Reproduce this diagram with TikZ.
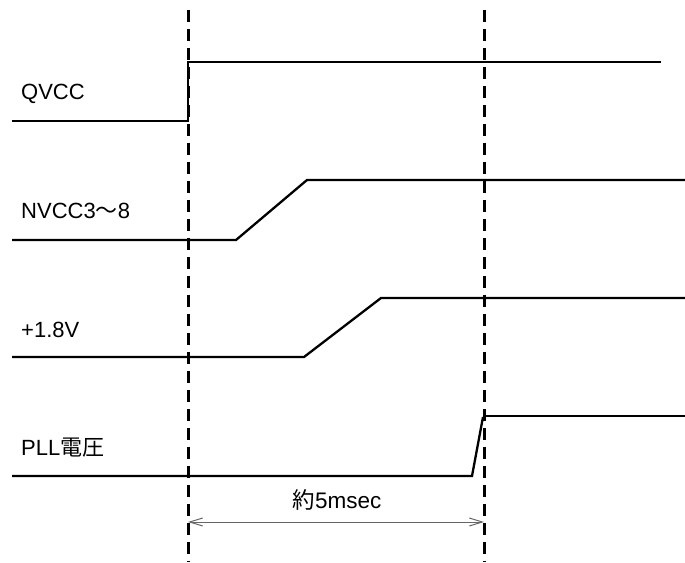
\documentclass[tikz,border=0pt]{standalone}
\usepackage{fontspec}
\setmainfont{Liberation Sans}
\newfontfamily\cjk{Noto Sans CJK JP}
\usetikzlibrary{arrows.meta}
\begin{document}
\begin{tikzpicture}[x=1pt,y=-1pt,
  sig/.style={line width=2.3pt},
  guide/.style={line width=3pt, dash pattern=on 12pt off 7pt},
  lbl/.style={anchor=base west, inner sep=0pt, font=\fontsize{22}{26}\selectfont},
  dim/.style={draw=black!60, line width=1pt, {Straight Barb[length=13pt,width=8pt,line width=1pt]}-{Straight Barb[length=13pt,width=8pt,line width=1pt]}}]
\useasboundingbox (0,0) rectangle (685,562);
% guide lines
\coordinate (g1t) at (188,10); \coordinate (g1b) at (188,562);
\coordinate (g2t) at (484,10); \coordinate (g2b) at (484,562);
\draw[guide] (g1t) -- (g1b);
\draw[guide] (g2t) -- (g2b);
% labels
\node[lbl] (lq) at (21,99) {QVCC};
\node[lbl] (ln) at (21,218) {NVCC3{\cjk 〜}8};
\node[lbl] (lv) at (21,337) {+1.8V};
\node[lbl] (lp) at (21,455) {PLL{\cjk 電圧}};
% QVCC
\coordinate (q0) at (12,121); \coordinate (q1) at (188,121);
\coordinate (q2) at (188,62); \coordinate (q3) at (661,62);
\draw[sig] (q0) -- (q1) -- (q2) -- (q3);
% NVCC
\coordinate (n0) at (12,240); \coordinate (n1) at (236,240);
\coordinate (n2) at (307,180); \coordinate (n3) at (685,180);
\draw[sig] (n0) -- (n1) -- (n2) -- (n3);
% +1.8V
\coordinate (v0) at (12,357); \coordinate (v1) at (304,357);
\coordinate (v2) at (381,298); \coordinate (v3) at (685,298);
\draw[sig] (v0) -- (v1) -- (v2) -- (v3);
% PLL
\coordinate (p0) at (12,476); \coordinate (p1) at (472,476);
\coordinate (p2) at (483,417); \coordinate (p3) at (485,416); \coordinate (p4) at (685,416);
\draw[sig] (p0) -- (p1) -- (p2);
\draw[sig] (p3) -- (p4);
% dimension
\coordinate (d1) at (188,522); \coordinate (d2) at (484,522);
\draw[dim] (d1) -- (d2);
\node[anchor=base, inner sep=0pt, font=\fontsize{22.5}{26}\selectfont] (dl) at (337,508) {{\cjk 約}5msec};
\end{tikzpicture}
\end{document}
